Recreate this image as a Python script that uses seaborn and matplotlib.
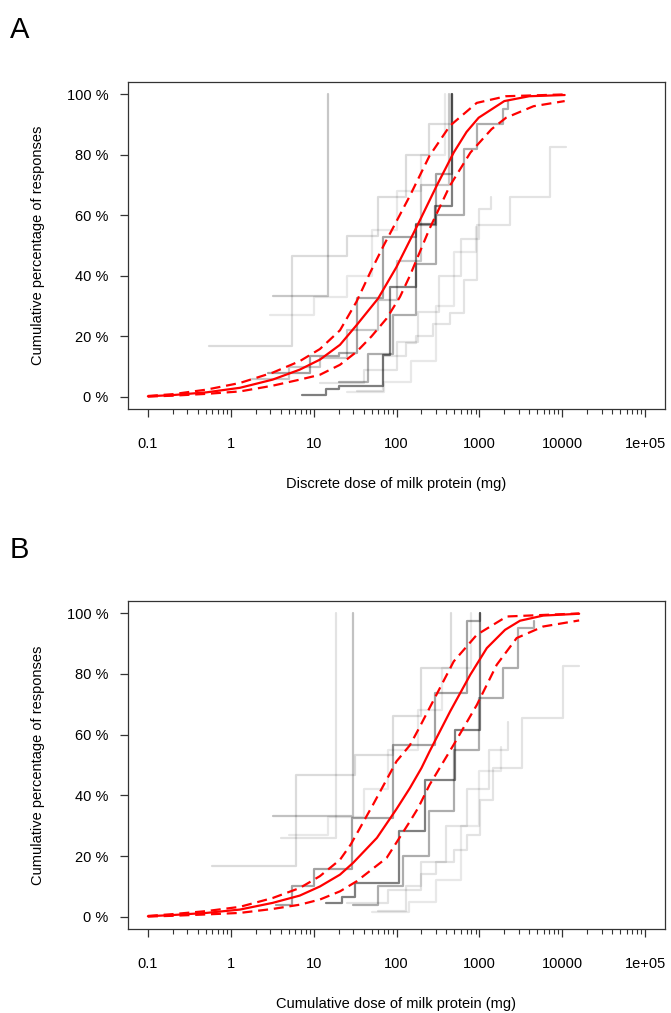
import numpy as np
import pandas as pd
import matplotlib
matplotlib.use("Agg")
import matplotlib.pyplot as plt
import matplotlib.ticker as mticker
import seaborn as sns

sns.set_style("white")
plt.rcParams['font.family'] = ['Liberation Sans', 'DejaVu Sans']
plt.rcParams['text.color'] = 'black'

# ---------------- Panel A : discrete dose ----------------
a_fit_dose = [0.1, 0.2, 0.51, 1.29, 3.2, 6.8, 11.9, 20.8, 33, 60, 100, 180, 305, 490, 700, 980, 2000, 4000, 10700]
a_fit_pct = [0.2, 0.6, 1.5, 3.0, 5.7, 9.0, 12.3, 17.2, 23.7, 32.5, 42.9, 56.8, 69.7, 80.7, 87.5, 92.2, 97.7, 99.3, 99.7]
a_up_dose = [0.1, 0.2, 0.51, 1.29, 3.2, 6.8, 11.9, 20.8, 33, 48, 70, 100, 145, 250, 440, 930, 2100, 10700]
a_up_pct = [0.3, 0.9, 2.4, 4.6, 8.0, 11.8, 15.8, 22.0, 31.5, 41.0, 50, 58, 66.4, 79.6, 89.5, 97.1, 99.3, 99.9]
a_lo_dose = [0.1, 0.2, 0.51, 1.29, 3.2, 6.8, 11.9, 20.8, 33, 50, 76, 110, 145, 250, 440, 780, 1400, 2100, 4500, 10700]
a_lo_pct = [0.1, 0.4, 1.0, 1.8, 3.7, 5.7, 7.3, 10.6, 14.9, 20, 25.9, 33, 40, 55.5, 69.7, 80.7, 88.4, 92.2, 96, 97.7]

a_s1_dose = [7.2, 14, 20, 69, 83, 172, 292, 463]
a_s1_pct = [0.5, 2.7, 3.5, 13.9, 36.4, 57, 63, 100]
a_s2_dose = [2.8, 9, 20, 33, 69, 172, 300, 470]
a_s2_pct = [8, 13.6, 14.6, 32.6, 52.8, 56.7, 73.7, 100]
a_s3_dose = [20, 45, 90, 170, 300, 650, 930, 1950, 2200]
a_s3_pct = [5, 14, 27, 44, 60, 81.9, 90, 95, 97.8]
a_s4_dose = [33, 69, 132, 174, 275, 437, 645, 930, 2350, 7100, 11000]
a_s4_pct = [1.9, 13.4, 17.7, 20, 24, 27.6, 38.6, 56.7, 66, 82.5, 82.5]
a_s5_dose = [0.55, 5.5, 25, 60, 130, 250, 450]
a_s5_pct = [16.7, 46.5, 53.2, 66, 80, 90, 100]
a_s6_dose = [3.2, 14.9]
a_s6_pct = [33.3, 100]
a_s7_dose = [3, 10, 25, 50, 100, 200, 380]
a_s7_pct = [27, 33, 40, 55, 68, 80, 100]
a_s8_dose = [1.8, 5, 12, 25, 60, 100, 200, 430]
a_s8_pct = [6, 10, 13, 22, 32, 45, 70, 100]
a_s9_dose = [12, 40, 100, 180, 330, 600, 1000, 1400]
a_s9_pct = [4.5, 9, 18, 28, 40, 52, 62, 66]
a_s10_dose = [25, 70, 150, 300, 500, 900]
a_s10_pct = [1.5, 5, 12, 30, 48, 56]

# ---------------- Panel B : cumulative dose ----------------
b_fit_dose = [0.1, 0.2, 0.51, 1.29, 3.2, 6.8, 11.9, 20.8, 30, 58, 100, 145, 200, 251, 443, 776, 1230, 2040, 3090, 5890, 16000]
b_fit_pct = [0.2, 0.6, 1.3, 2.4, 4.6, 7.0, 10.0, 13.9, 17.8, 26, 35.5, 42.4, 49, 54.5, 67.6, 79.7, 88.5, 94.5, 97.5, 99.2, 99.8]
b_up_dose = [0.1, 0.2, 0.51, 1.29, 3.2, 6.8, 11.9, 20.8, 28, 52, 100, 145, 182, 275, 490, 933, 2140, 16000]
b_up_pct = [0.3, 0.9, 1.9, 3.3, 6.2, 9.5, 13.4, 18.8, 23.8, 36.9, 51.2, 56.5, 61.5, 70.9, 84.1, 92.9, 98.9, 99.9]
b_lo_dose = [0.1, 0.2, 0.51, 1.29, 3.2, 6.8, 11.9, 20.8, 33, 76, 145, 182, 251, 490, 933, 1620, 2820, 5890, 16000]
b_lo_pct = [0.1, 0.35, 0.8, 1.3, 2.6, 4.0, 5.7, 8.4, 11.7, 19.4, 31.4, 35.8, 43.5, 56.7, 69.8, 83, 91.8, 95.6, 97.6]

b_s1_dose = [14, 22, 32, 107, 219, 513, 1020]
b_s1_pct = [4.6, 6.4, 11.2, 28.2, 45.2, 61.6, 100]
b_s2_dose = [3.5, 5.5, 10, 28.8, 92, 292, 703, 1020]
b_s2_pct = [4, 10, 15.6, 32.6, 56.7, 73.7, 97.3, 100]
b_s3_dose = [30, 60, 120, 250, 500, 1000, 1950, 2960, 4500]
b_s3_pct = [4, 10, 20, 35, 55, 72, 81.9, 95, 97.3]
b_s4_dose = [60, 130, 200, 300, 500, 700, 1020, 1480, 3240, 10300, 16000]
b_s4_pct = [2, 10, 14, 18, 22, 27, 38.6, 49, 65.5, 82.5, 82.5]
b_s5_dose = [0.6, 6.2, 32, 90, 200, 450]
b_s5_pct = [16.7, 46.6, 53.2, 66, 82, 100]
b_s6_dose = [3.2, 29.5]
b_s6_pct = [33.3, 100]
b_s7_dose = [4, 18.6]
b_s7_pct = [26, 100]
b_s8_dose = [5, 15, 40, 80, 180, 350, 800]
b_s8_pct = [27, 33, 42, 55, 68, 82, 100]
b_s9_dose = [25, 80, 200, 400, 700, 1300, 2200]
b_s9_pct = [4.5, 9, 18, 30, 42, 55, 64]
b_s10_dose = [50, 140, 300, 600, 1000, 1800]
b_s10_pct = [1.5, 5, 12, 30, 48, 56]

a_steps = [(a_s1_dose, a_s1_pct, 0.50), (a_s2_dose, a_s2_pct, 0.36),
           (a_s3_dose, a_s3_pct, 0.32), (a_s4_dose, a_s4_pct, 0.11),
           (a_s5_dose, a_s5_pct, 0.14), (a_s6_dose, a_s6_pct, 0.22),
           (a_s7_dose, a_s7_pct, 0.09), (a_s8_dose, a_s8_pct, 0.22),
           (a_s9_dose, a_s9_pct, 0.11), (a_s10_dose, a_s10_pct, 0.09)]
b_steps = [(b_s1_dose, b_s1_pct, 0.50), (b_s2_dose, b_s2_pct, 0.36),
           (b_s3_dose, b_s3_pct, 0.32), (b_s4_dose, b_s4_pct, 0.11),
           (b_s5_dose, b_s5_pct, 0.14), (b_s6_dose, b_s6_pct, 0.24),
           (b_s7_dose, b_s7_pct, 0.11), (b_s8_dose, b_s8_pct, 0.09),
           (b_s9_dose, b_s9_pct, 0.11), (b_s10_dose, b_s10_pct, 0.09)]

x_ticks = [0.1, 1, 10, 100, 1000, 10000, 100000]
x_tick_labels = ["0.1", "1", "10", "100", "1000", "10000", "1e+05"]
y_ticks = [0, 20, 40, 60, 80, 100]
y_tick_labels = ["0 %", "20 %", "40 %", "60 %", "80 %", "100 %"]

W, H = 671, 1013
fig = plt.figure(figsize=(W / 100, H / 100), dpi=100)

def make_axes(top_px, bot_px):
    return fig.add_axes([128 / W, (H - bot_px) / H, (665 - 128) / W, (bot_px - top_px) / H])

def draw_panel(ax, steps, fit, up, lo, xlabel):
    for d, p, a in steps:
        df = pd.DataFrame({"dose": d, "pct": p})
        sns.lineplot(data=df, x="dose", y="pct", ax=ax, estimator=None, sort=False,
                     drawstyle="steps-post", color="black", alpha=a, lw=1.6)
    for (d, p), dashed in [(fit, False), (up, True), (lo, True)]:
        df = pd.DataFrame({"dose": d, "pct": p})
        sns.lineplot(data=df, x="dose", y="pct", ax=ax, estimator=None, sort=False,
                     color="#ff0000", lw=1.6)
        ln = ax.lines[-1]
        ln.set_solid_joinstyle("round")
        if dashed:
            ln.set_dashes((4.5, 2.6))
    ax.set_xscale("log")
    ax.set_xlim(10 ** -1.24, 10 ** 5.24)
    ax.set_ylim(-4, 104)
    ax.set_xticks(x_ticks)
    ax.set_xticklabels(x_tick_labels)
    minors = [m * 10.0 ** e for e in range(-1, 5) for m in range(2, 10)]
    ax.xaxis.set_minor_locator(mticker.FixedLocator(minors))
    ax.xaxis.set_minor_formatter(mticker.NullFormatter())
    ax.set_yticks(y_ticks)
    ax.set_yticklabels(y_tick_labels)
    ax.tick_params(axis="x", which="major", direction="out", length=6, width=0.9,
                   color="#333333", labelsize=10.5, pad=14, bottom=True, labelcolor="black")
    ax.tick_params(axis="y", which="major", direction="out", length=6, width=0.9,
                   color="#333333", labelsize=10.5, pad=8, left=True, labelcolor="black")
    ax.tick_params(axis="x", which="minor", direction="out", length=3.5, width=0.8,
                   color="#333333", bottom=True)
    for s in ax.spines.values():
        s.set_visible(True)
        s.set_color("#333333")
        s.set_linewidth(0.9)
    ax.set_xlabel(xlabel, fontsize=10.5, labelpad=19, color="black")
    ax.set_ylabel("Cumulative percentage of responses", fontsize=10.5, labelpad=16, color="black")
    ax.grid(False)

axA = make_axes(82, 409)
draw_panel(axA, a_steps, (a_fit_dose, a_fit_pct), (a_up_dose, a_up_pct), (a_lo_dose, a_lo_pct),
           "Discrete dose of milk protein (mg)")
axB = make_axes(601, 929)
draw_panel(axB, b_steps, (b_fit_dose, b_fit_pct), (b_up_dose, b_up_pct), (b_lo_dose, b_lo_pct),
           "Cumulative dose of milk protein (mg)")

fig.text(10 / W, 1 - 30 / H, "A", fontsize=21, va="center", ha="left", color="black")
fig.text(10 / W, 1 - 550 / H, "B", fontsize=21, va="center", ha="left", color="black")

fig.savefig("out.png", dpi=100, facecolor="white")
